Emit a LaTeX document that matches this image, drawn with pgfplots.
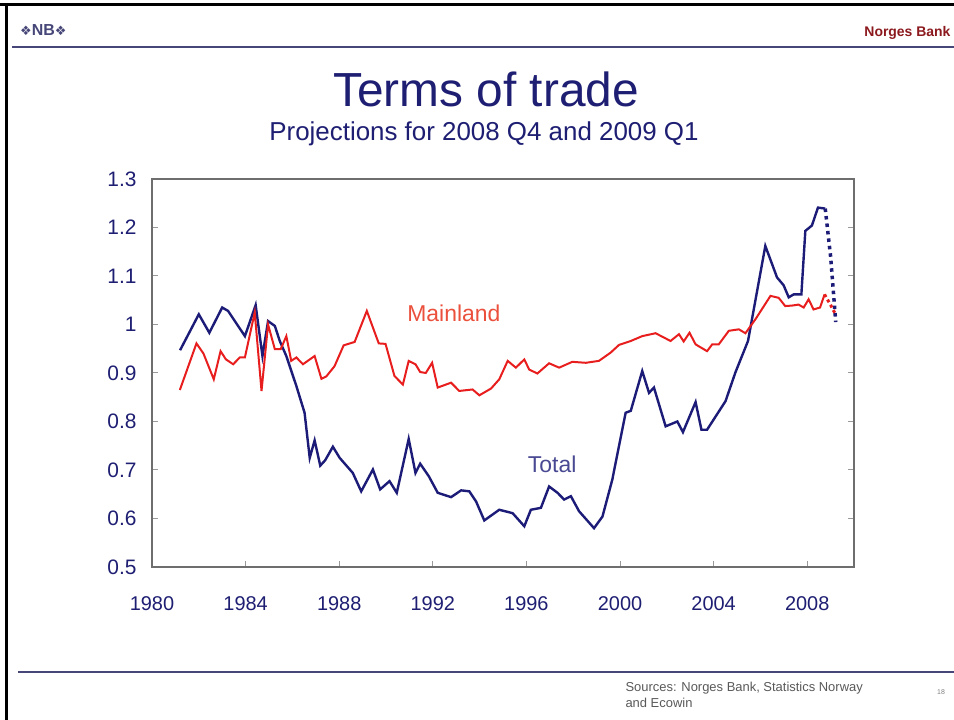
\documentclass[border=0pt]{standalone}
\usepackage{fontspec}
\setmainfont{Liberation Sans}
\newfontfamily\dejavu{DejaVu Sans}
\usepackage{pgfplots}
\pgfplotsset{compat=1.18}

\definecolor{navy}{RGB}{30,30,115}
\definecolor{totblue}{RGB}{28,28,120}
\definecolor{mainred}{RGB}{232,30,30}
\definecolor{lblred}{RGB}{235,80,60}
\definecolor{nbred}{RGB}{140,25,30}
\definecolor{rule}{RGB}{70,70,120}
\definecolor{frame}{RGB}{110,110,110}

\begin{document}
\begin{tikzpicture}[x=1bp,y=1bp]
% slide canvas, 954 x 720
\fill[white] (0,0) rectangle (954,720);
\useasboundingbox (0,0) rectangle (954,720);
\draw[black,line width=3bp] (0,715) -- (954,715);
\draw[black,line width=3bp] (6,0) -- (6,716.5);

% header
\node[anchor=west,text=rule,font=\fontsize{16}{18}\selectfont\bfseries,inner sep=0pt] at (20,690) {{\dejavu\fontsize{13}{14}\selectfont ❖}NB{\dejavu\fontsize{13}{14}\selectfont ❖}};
\node[anchor=east,text=nbred,font=\fontsize{14}{16}\selectfont\bfseries] at (954,687) {Norges Bank};
\draw[rule,line width=2bp] (12,673) -- (954,673);

% titles
\node[text=navy,font=\fontsize{48}{54}\selectfont] at (486,631) {Terms of trade};
\node[text=navy,font=\fontsize{26}{30}\selectfont] at (484,586) {Projections for 2008 Q4 and 2009 Q1};

% footer
\draw[rule,line width=2bp] (18,48) -- (954,48);
\node[anchor=north west,align=left,text=gray!70!black,font=\fontsize{13}{16}\selectfont] at (622,41) {Sources: Norges Bank, Statistics Norway\\and Ecowin};
\node[text=gray,font=\fontsize{7}{8}\selectfont] at (941,28) {18};

\begin{axis}[
  at={(152bp,153bp)}, anchor=south west,
  scale only axis, width=702bp, height=388bp,
  xmin=1980, xmax=2010, ymin=0.5, ymax=1.3,
  axis line style={frame,line width=1.6bp},
  xtick={1980,1984,1988,1992,1996,2000,2004,2008},
  xticklabels={1980,1984,1988,1992,1996,2000,2004,2008},
  ytick={0.5,0.6,0.7,0.8,0.9,1,1.1,1.2,1.3},
  yticklabels={0.5,0.6,0.7,0.8,0.9,1,1.1,1.2,1.3},
  xtick pos=left,
  tick align=inside,
  major tick length=6bp,
  tick style={frame!70,line width=1bp},
  ticklabel style={text=navy},
  xticklabel style={yshift=-26bp,font=\fontsize{20}{24}\selectfont},
  yticklabel style={xshift=-12bp,font=\fontsize{21}{24}\selectfont},
  clip=false,
]
\addplot[totblue,line width=2.4bp] coordinates {
 (1981.2,0.947) (1982.0,1.021) (1982.45,0.983) (1983.0,1.035) (1983.25,1.028)
 (1983.97,0.976) (1984.43,1.040) (1984.72,0.935) (1984.96,1.007) (1985.25,0.997)
 (1985.46,0.966) (1985.74,0.935) (1986.17,0.873) (1986.52,0.818) (1986.74,0.725)
 (1986.95,0.761) (1987.19,0.709) (1987.4,0.720) (1987.73,0.748) (1988.02,0.725)
 (1988.58,0.694) (1988.94,0.656) (1989.44,0.701) (1989.75,0.660) (1990.15,0.677)
 (1990.46,0.653) (1990.97,0.764) (1991.26,0.694) (1991.46,0.713) (1991.83,0.687)
 (1992.21,0.653) (1992.78,0.644) (1993.21,0.658) (1993.56,0.656) (1993.85,0.635)
 (1994.2,0.596) (1994.84,0.618) (1995.41,0.611) (1995.91,0.584) (1996.19,0.618)
 (1996.62,0.622) (1996.97,0.666) (1997.33,0.653) (1997.61,0.639) (1997.9,0.646)
 (1998.25,0.615) (1998.89,0.580) (1999.25,0.604) (1999.67,0.680) (2000.24,0.818)
 (2000.46,0.822) (2000.95,0.904) (2001.24,0.859) (2001.45,0.870) (2001.95,0.790)
 (2002.45,0.800) (2002.69,0.778) (2003.23,0.840) (2003.48,0.783) (2003.72,0.783)
 (2004.51,0.842) (2004.93,0.901) (2005.47,0.966) (2006.21,1.162) (2006.71,1.097)
 (2006.99,1.081) (2007.21,1.056) (2007.42,1.062) (2007.75,1.062) (2007.92,1.193)
 (2008.2,1.204) (2008.46,1.241) (2008.77,1.239)
};
\addplot[mainred,line width=2bp] coordinates {
 (1981.19,0.865) (1981.9,0.961) (1982.2,0.940) (1982.64,0.887) (1982.93,0.945)
 (1983.16,0.928) (1983.47,0.918) (1983.75,0.932) (1983.97,0.932) (1984.39,1.025)
 (1984.68,0.863) (1984.96,1.000) (1985.25,0.949) (1985.5,0.949) (1985.74,0.976)
 (1985.95,0.925) (1986.17,0.932) (1986.45,0.918) (1986.95,0.935) (1987.24,0.888)
 (1987.45,0.893) (1987.8,0.914) (1988.19,0.957) (1988.66,0.964) (1989.18,1.028)
 (1989.69,0.961) (1989.98,0.960) (1990.36,0.894) (1990.72,0.876) (1990.97,0.925)
 (1991.26,0.918) (1991.46,0.902) (1991.7,0.900) (1991.97,0.921) (1992.21,0.870)
 (1992.78,0.880) (1993.13,0.863) (1993.7,0.866) (1993.99,0.854) (1994.49,0.868)
 (1994.84,0.887) (1995.2,0.925) (1995.55,0.911) (1995.91,0.928) (1996.12,0.907)
 (1996.47,0.899) (1996.97,0.920) (1997.4,0.911) (1997.96,0.923) (1998.54,0.921)
 (1999.1,0.925) (1999.6,0.942) (1999.96,0.958) (2000.46,0.966) (2000.95,0.976)
 (2001.52,0.982) (2002.16,0.966) (2002.52,0.980) (2002.72,0.965) (2002.97,0.983)
 (2003.23,0.959) (2003.72,0.945) (2003.94,0.959) (2004.22,0.959) (2004.65,0.987)
 (2005.08,0.990) (2005.36,0.982) (2005.79,1.011) (2006.43,1.059) (2006.78,1.055)
 (2007.06,1.038) (2007.35,1.039) (2007.63,1.041) (2007.85,1.035) (2008.06,1.052)
 (2008.27,1.031) (2008.55,1.035) (2008.74,1.062)
};
% projections 2008 Q4 and 2009 Q1
\addplot[totblue,line width=3.5bp,dash pattern=on 3.5bp off 4bp] coordinates {
 (2008.77,1.239) (2009.0,1.14) (2009.22,1.005)
};
\addplot[mainred,line width=3bp,dash pattern=on 3bp off 3bp] coordinates {
 (2008.74,1.062) (2009.0,1.040) (2009.2,1.022)
};
\node[text=lblred,font=\fontsize{23}{26}\selectfont] at (axis cs:1992.9,1.023) {Mainland};
\node[text=totblue!80!white,font=\fontsize{23}{26}\selectfont] at (axis cs:1997.1,0.712) {Total};
\end{axis}

% right-hand tick labels
\begin{axis}[
  at={(152bp,153bp)}, anchor=south west,
  scale only axis, width=702bp, height=388bp,
  xmin=1980, xmax=2010, ymin=0.5, ymax=1.3,
  axis lines=none,
  xtick=\empty,
  ytick={0.5,0.6,0.7,0.8,0.9,1,1.1,1.2,1.3},
  yticklabels={0.5,0.6,0.7,0.8,0.9,1,1.1,1.2,1.3},
  yticklabel pos=right,
  major tick length=0pt,
  ticklabel style={text=navy,font=\fontsize{20}{24}\selectfont,anchor=west},
  yticklabel style={xshift=12bp},
]
\addplot[draw=none] coordinates {(1990,1)};
\end{axis}
\end{tikzpicture}
\end{document}
